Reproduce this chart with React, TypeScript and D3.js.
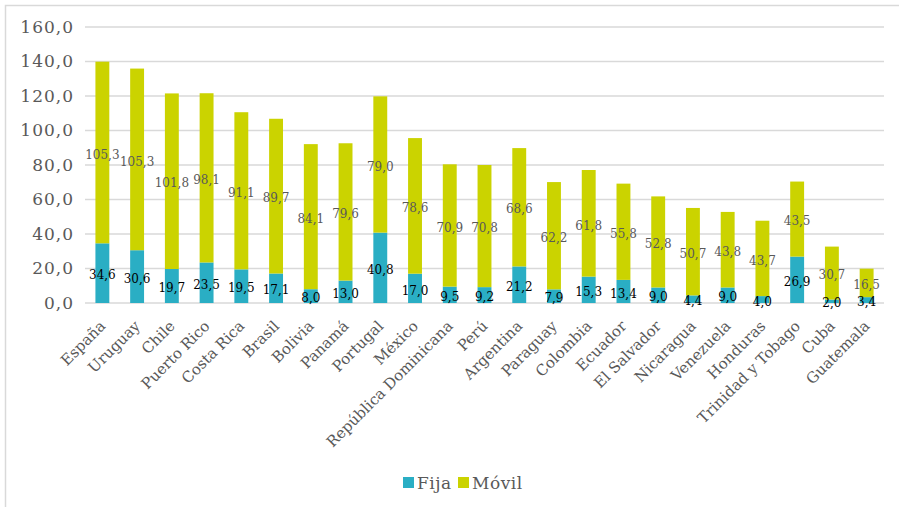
import React from "react";
import * as d3 from "d3";

const countries = [
  "España", "Uruguay", "Chile", "Puerto Rico", "Costa Rica", "Brasil", "Bolivia",
  "Panamá", "Portugal", "México", "República Dominicana", "Perú", "Argentina",
  "Paraguay", "Colombia", "Ecuador", "El Salvador", "Nicaragua", "Venezuela",
  "Honduras", "Trinidad y Tobago", "Cuba", "Guatemala",
];
const fija = [34.6, 30.6, 19.7, 23.5, 19.5, 17.1, 8.0, 13.0, 40.8, 17.0, 9.5, 9.2, 21.2, 7.9, 15.3, 13.4, 9.0, 4.4, 9.0, 4.0, 26.9, 2.0, 3.4];
const movil = [105.3, 105.3, 101.8, 98.1, 91.1, 89.7, 84.1, 79.6, 79.0, 78.6, 70.9, 70.8, 68.6, 62.2, 61.8, 55.8, 52.8, 50.7, 43.8, 43.7, 43.5, 30.7, 16.5];
const yTicks = [0, 20, 40, 60, 80, 100, 120, 140, 160];
const seriesNames = ["Fija", "Móvil"];

const W = 899;
const H = 507;
const FONT = "'DejaVu Serif', serif";
const COLORS = ["#2AAEC4", "#CBD300"];

const fmt = (v: number) => v.toFixed(1).replace(".", ",");

export default function App() {
  const x = d3.scaleBand<string>().domain(countries).range([85, 884]).paddingInner(0.6).paddingOuter(0.3);
  const y = d3.scaleLinear().domain([0, 160]).range([303, 27]);
  const bw = x.bandwidth();

  const rows = countries.map((c, i) => ({ c, fija: fija[i], movil: movil[i] }));
  const stack = d3.stack<any>().keys(["fija", "movil"])(rows);

  return (
    <svg width={W} height={H} style={{ position: "absolute", left: 0, top: 0, background: "#fff" }}>
      <rect x={5.5} y={5.5} width={W + 10} height={H + 10} fill="#fff" stroke="#D9D9D9" strokeWidth={1.5} />
      {yTicks.map((t) => (
        <g key={t}>
          <line x1={85} x2={884} y1={y(t)} y2={y(t)} stroke="#D9D9D9" strokeWidth={1.5} />
          <text x={74} y={y(t)} dy="0.35em" textAnchor="end" fontFamily={FONT} fontSize={17} letterSpacing={1} fill="#595959">
            {fmt(t)}
          </text>
        </g>
      ))}
      {stack.map((s, si) => (
        <g key={si}>
          {s.map((d, i) => (
            <rect key={i} x={x(countries[i])!} y={y(d[1])} width={bw} height={y(d[0]) - y(d[1])} fill={COLORS[si]} />
          ))}
        </g>
      ))}
      {stack.map((s, si) => (
        <g key={"l" + si}>
          {s.map((d, i) => (
            <text
              key={i}
              x={x(countries[i])! + bw / 2}
              y={y((d[0] + d[1]) / 2) + 2}
              dy="0.35em"
              textAnchor="middle"
              fontFamily={FONT}
              fontSize={12}
              fill={si === 0 ? "#000" : "#595959"}
            >
              {fmt(d[1] - d[0])}
            </text>
          ))}
        </g>
      ))}
      {countries.map((c) => (
        <text
          key={c}
          transform={`translate(${x(c)! + bw / 2 + 4},${327}) rotate(-45)`}
          textAnchor="end"
          fontFamily={FONT}
          fontSize={15}
          fill="#595959"
        >
          {c}
        </text>
      ))}
      {seriesNames.map((n, i) => {
        const lx = [403, 458][i];
        return (
          <g key={n}>
            <rect x={lx} y={477} width={11} height={11} fill={COLORS[i]} />
            <text x={lx + 14} y={489} fontFamily={FONT} fontSize={17} letterSpacing={0.5} fill="#595959">
              {n}
            </text>
          </g>
        );
      })}
    </svg>
  );
}
